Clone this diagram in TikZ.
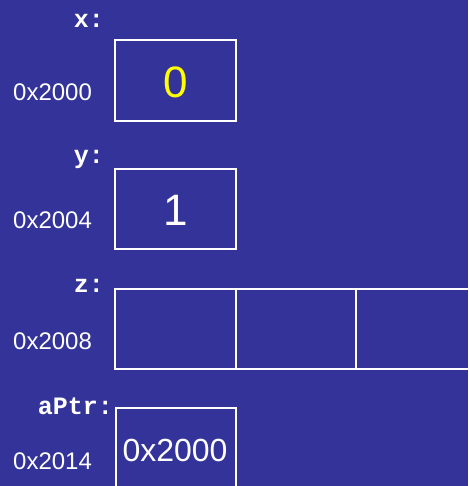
\documentclass[tikz,border=0pt]{standalone}
\usepackage{fontspec}
\setmainfont{Liberation Sans}
\newfontfamily\monobold{Liberation Mono}[BoldFont={* Bold}]
\definecolor{bgblue}{HTML}{333399}
\definecolor{valyellow}{HTML}{FFFF00}
\begin{document}
\begin{tikzpicture}[x=1pt,y=-1pt,
  cell/.style={draw=white,line width=2pt},
  addr/.style={anchor=west,inner sep=0pt,text=white,font=\fontsize{24}{24}\selectfont},
  varname/.style={anchor=base east,inner sep=0pt,text=white,font=\monobold\bfseries\fontsize{25}{25}\selectfont},
  bigval/.style={inner sep=0pt,font=\fontsize{44}{44}\selectfont},
  ptrval/.style={inner sep=0pt,text=white,font=\fontsize{32}{32}\selectfont}]
\fill[bgblue] (0,0) rectangle (468,486);
\useasboundingbox (0,0) rectangle (468,486);
% x
\node[varname] (xlab) at (104,28) {x:};
\node[addr] (xaddr) at (13,92.5) {0x2000};
\draw[cell] (115,40) rectangle (236,121);
\node[bigval,text=valyellow] (xval) at (176,82.5) {0};
% y
\node[varname] (ylab) at (104,164) {y:};
\node[addr] (yaddr) at (13,220.5) {0x2004};
\draw[cell] (115,169) rectangle (236,249);
\node[bigval,text=white] (yval) at (176,210) {1};
% z
\node[varname] (zlab) at (104,292) {z:};
\node[addr] (zaddr) at (13,341) {0x2008};
\draw[cell] (115,289) rectangle (236,369);
\draw[cell] (236,289) rectangle (356,369);
\draw[cell] (356,289) -- (470,289) (356,289) -- (356,369) -- (470,369);
% aPtr
\node[varname] (plab) at (113,414) {aPtr:};
\node[addr] (paddr) at (13,461) {0x2014};
\draw[cell] (116,490) -- (116,408) -- (236,408) -- (236,490);
\node[ptrval] (pval) at (175,450.5) {0x2000};
\end{tikzpicture}
\end{document}
